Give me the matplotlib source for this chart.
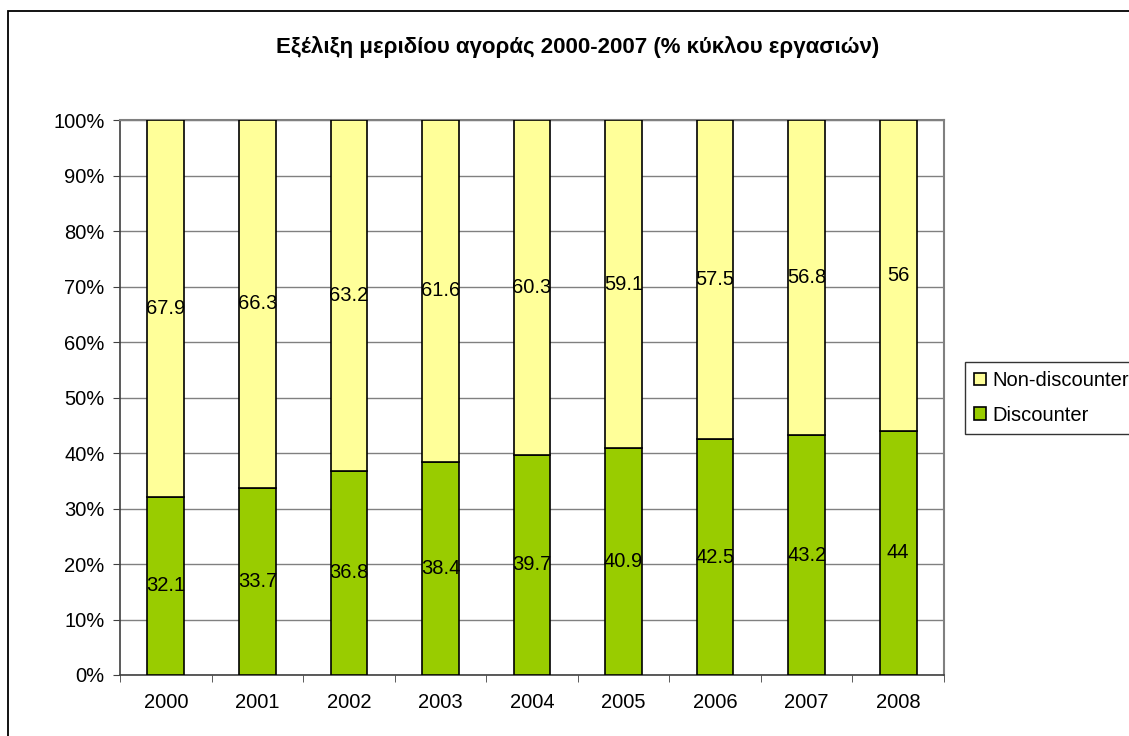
import matplotlib
matplotlib.use("Agg")
import matplotlib.pyplot as plt
import matplotlib.patches as mpatches
import numpy as np

years = ["2000", "2001", "2002", "2003", "2004", "2005", "2006", "2007", "2008"]
discounter = [32.1, 33.7, 36.8, 38.4, 39.7, 40.9, 42.5, 43.2, 44]
non_discounter = [67.9, 66.3, 63.2, 61.6, 60.3, 59.1, 57.5, 56.8, 56]
title = "Εξέλιξη μεριδίου αγοράς 2000-2007 (% κύκλου εργασιών)"

plt.rcParams['font.family'] = ['Liberation Sans', 'DejaVu Sans']

W, H = 1129, 736
fig = plt.figure(figsize=(W / 100, H / 100), dpi=100)
ax = fig.add_axes([120 / W, 1 - 675 / H, (944 - 120) / W, (675 - 120) / H])

FS = 14.5
x = np.arange(len(years))
bw = 0.4
yellow = "#FFFF99"
green = "#99CC00"
b1 = ax.bar(x, discounter, bw, color=green, edgecolor="black", linewidth=1.2, label="Discounter", zorder=3)
b2 = ax.bar(x, non_discounter, bw, bottom=discounter, color=yellow, edgecolor="black", linewidth=1.2,
            label="Non-discounter", zorder=3)

for i in range(len(years)):
    ax.text(x[i], discounter[i] / 2, f"{discounter[i]:g}", ha="center", va="center", fontsize=FS, zorder=4)
    ax.text(x[i], discounter[i] + non_discounter[i] / 2, f"{non_discounter[i]:g}", ha="center", va="center",
            fontsize=FS, zorder=4)

ax.set_xlim(-0.5, len(years) - 0.5)
ax.set_ylim(0, 100)
ax.set_yticks(np.arange(0, 101, 10))
ax.set_yticklabels([f"{v}%" for v in range(0, 101, 10)], fontsize=FS)
ax.set_xticks(x)
ax.set_xticklabels(years, fontsize=FS)
ax.set_xticks(np.arange(-0.5, len(years), 1), minor=True)
ax.tick_params(axis="x", which="major", length=0, pad=13)
ax.tick_params(axis="x", which="minor", length=5, direction="out", color="#404040")
ax.tick_params(axis="y", length=5, direction="out", color="#404040", pad=6)
ax.yaxis.grid(True, color="#808080", linewidth=1, zorder=0)
ax.set_axisbelow(True)
for s in ["top", "right"]:
    ax.spines[s].set_color("#808080")
    ax.spines[s].set_linewidth(1.5)
for s in ["left", "bottom"]:
    ax.spines[s].set_color("#404040")
    ax.spines[s].set_linewidth(1.2)

fig.text(578 / W, 1 - 47 / H, title, ha="center", va="center", fontsize=16, fontweight="bold")

leg = fig.legend(handles=[b2, b1], labels=["Non-discounter", "Discounter"],
                 loc="upper left", bbox_to_anchor=(965 / W, 1 - 362 / H),
                 fontsize=FS, frameon=True, fancybox=False, edgecolor="black",
                 handlelength=0.6, handleheight=0.6, handletextpad=0.3,
                 borderpad=0.45, labelspacing=0.78, borderaxespad=0)
leg.get_frame().set_linewidth(1)

frame = mpatches.Rectangle((8 / W, -0.1), 1.2, 1 - 11 / H + 0.1, transform=fig.transFigure,
                           fill=False, edgecolor="black", linewidth=1.3)
fig.patches.append(frame)

fig.savefig("out.png", dpi=100)
